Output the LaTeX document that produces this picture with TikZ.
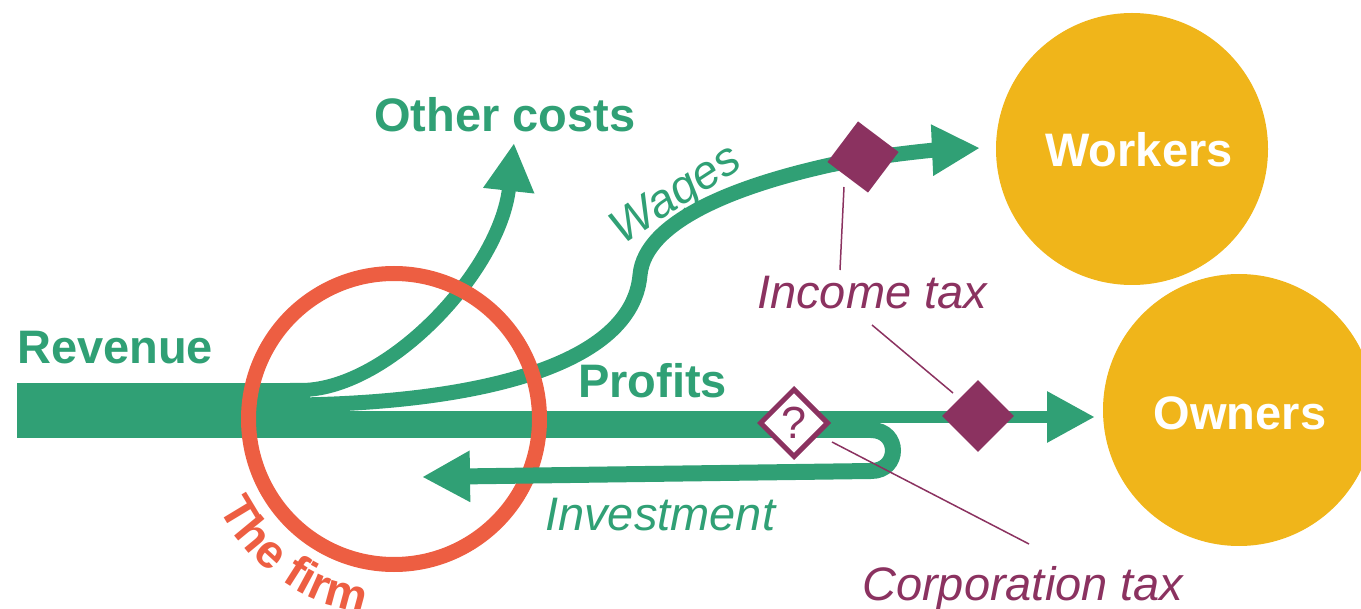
\documentclass[tikz,border=0pt]{standalone}
\usepackage{fontspec}
\setmainfont{Liberation Sans}
\usepackage{xcolor}
\usetikzlibrary{arrows.meta, shapes.geometric, decorations.text, positioning}

\definecolor{flow}{RGB}{48,160,117}
\definecolor{firm}{RGB}{237,94,66}
\definecolor{gold}{RGB}{240,181,26}
\definecolor{tax}{RGB}{139,50,96}

\newcommand{\lblfont}{\fontsize{47}{56}\selectfont}
\newcommand{\qmfont}{\fontsize{45}{54}\selectfont}

\tikzset{
    flowarrow/.style={draw=flow, line width=#1, -{Triangle[length=48pt, width=48pt]}},
    flowband/.style={draw=flow, line width=#1},
    party/.style={circle, fill=gold, minimum size=272pt, inner sep=0pt},
    partylbl/.style={text=white, font=\lblfont\bfseries, inner sep=0pt},
    flowlbl/.style={text=flow, font=\lblfont\bfseries, anchor=base west, inner sep=0pt},
    flowlblit/.style={text=flow, font=\lblfont\itshape, anchor=base west, inner sep=0pt},
    taxlbl/.style={text=tax, font=\lblfont\itshape, anchor=base west, inner sep=0pt},
    taxdiam/.style={diamond, fill=tax, minimum width=72pt, minimum height=72pt, inner sep=0pt},
    qdiam/.style={diamond, draw=tax, fill=white, line width=5pt, minimum width=69pt, minimum height=69pt, inner sep=0pt, text=tax, font=\qmfont},
    taxline/.style={draw=tax, line width=1.5pt}
}

\begin{document}
\begin{tikzpicture}[x=1pt, y=-1pt]
    \useasboundingbox (0,0) rectangle (1361,609);

    % workers and owners
    \node[party] (workers) at (1132,149) {};
    \node[party] (owners) at (1239,410) {};
    \node[partylbl] (workerslbl) at (1139,150) {Workers};
    \node[partylbl] (ownerslbl) at (1240,413) {Owners};

    % revenue and its split
    \fill[flow] (17,383) rectangle (310,438);
    \draw[flowarrow=14pt] (290,390) -- (303,390) .. controls (390,388) and (500,270) .. (514,143);
    \draw[flowarrow=15pt] (290,405) -- (300,405) .. controls (480,402) and (632,365) .. (640,275)
        .. controls (645,220) and (740,185) .. (830,165)
        .. controls (880,155) and (935,150) .. (980,148);
    \draw[flowarrow=12pt] (290,417) -- (1095,417);
    \coordinate (invmid) at (600,474.6);
    \draw[flowband=16pt] (290,430) -- (871,430) .. controls (900.3,430) and (900.3,471) .. (871,471) -- (invmid);

    % the firm
    \draw[firm, line width=15pt] (394,419) circle[radius=145.5];
    \path[decorate, decoration={text along path, text={|\lblfont\bfseries|The firm}, text color=firm, text align=left}]
        (394,419) ++(-207:197) arc[start angle=-207, end angle=-275, radius=197];

    \draw[flowarrow=16pt] (invmid) -- (422,477);

    % taxes
    \node[taxdiam, rotate=8] (wagetax) at (863,157) {};
    \node[taxdiam] (profittax) at (978,416) {};
    \node[qdiam] (corptax) at (794,423) {?};

    % labels
    \node[flowlbl] (revenuelbl) at (17,364) {Revenue};
    \node[flowlbl] (costslbl) at (374,132) {Other costs};
    \node[flowlbl] (profitslbl) at (578,398) {Profits};
    \node[flowlblit, anchor=base, rotate=33] (wageslbl) at (683,206) {Wages};
    \node[flowlblit] (investlbl) at (545,530) {Investment};
    \node[taxlbl] (incomelbl) at (757,309) {Income tax};
    \node[taxlbl] (corplbl) at (862,600) {Corporation tax};

    \coordinate (inc1) at (844,187);
    \coordinate (inc2) at (840,270);
    \coordinate (inc3) at (872,325);
    \coordinate (inc4) at (953,393);
    \coordinate (corp1) at (832,442);
    \coordinate (corp2) at (1029,544);
    \draw[taxline] (inc1) -- (inc2);
    \draw[taxline] (inc3) -- (inc4);
    \draw[taxline] (corp1) -- (corp2);
\end{tikzpicture}
\end{document}
